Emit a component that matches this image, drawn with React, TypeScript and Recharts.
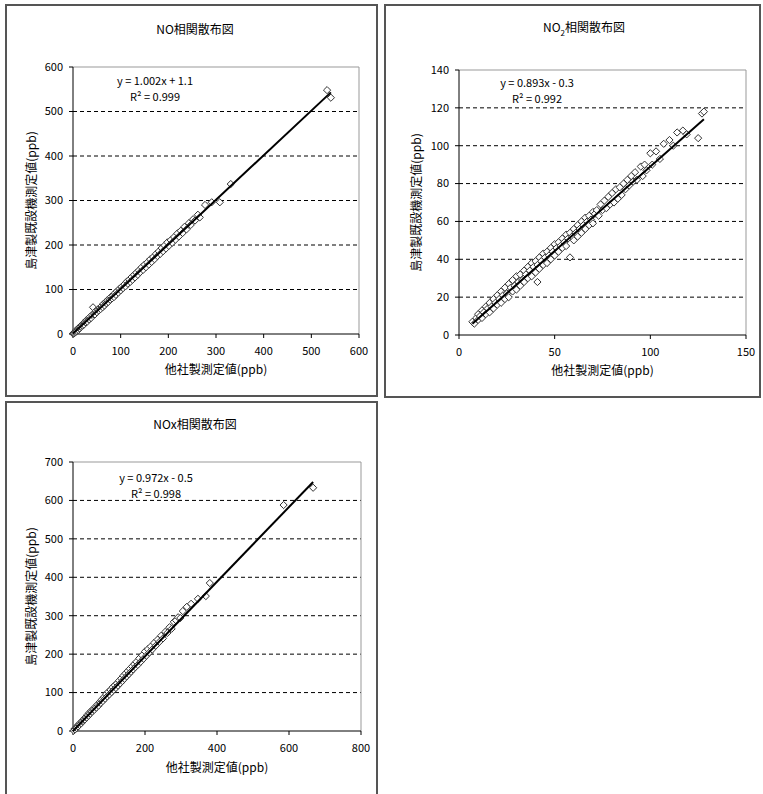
import React from 'react';
import { ScatterChart, Scatter, XAxis, YAxis, ReferenceLine } from 'recharts';

// values (x: 他社製, y: 島津製)
const noPoints = [
  [0, 1], [1, 2], [2, 1], [3, 4], [4, 3], [5, 6], [6, 5], [7, 9], [8, 7], [10, 11], [11, 9], [12, 14],
  [14, 13], [15, 17], [17, 16], [18, 20], [20, 19], [22, 24], [23, 21], [25, 27], [27, 26], [28, 31],
  [30, 28], [32, 34], [34, 33], [36, 39], [38, 36], [40, 43], [42, 60], [44, 45], [46, 44], [48, 52],
  [50, 49], [52, 55], [54, 53], [56, 58], [58, 56], [60, 63], [62, 60], [64, 68], [66, 64], [68, 71],
  [70, 69], [72, 76], [74, 72], [76, 79], [78, 77], [80, 84], [82, 80], [84, 86], [86, 83], [88, 92],
  [90, 88], [92, 96], [95, 93], [97, 101], [100, 98], [102, 106], [105, 103], [108, 112], [110, 107],
  [113, 118], [115, 113], [118, 122], [120, 117], [123, 128], [125, 122], [128, 133], [130, 127],
  [133, 138], [136, 133], [138, 143], [141, 139], [144, 150], [147, 144], [150, 156], [153, 150],
  [156, 161], [159, 156], [162, 168], [165, 162], [168, 173], [171, 168], [174, 180], [177, 175],
  [180, 186], [183, 180], [186, 193], [189, 186], [192, 199], [195, 192], [198, 206], [201, 198],
  [205, 211], [208, 205], [212, 218], [215, 212], [219, 226], [222, 219], [226, 232], [230, 227],
  [234, 241], [238, 235], [243, 249], [247, 245], [252, 258], [256, 255], [262, 268], [266, 262],
  [277, 290], [291, 296], [308, 296], [331, 337], [533, 548], [541, 531],
];
const noTrend = [[0, 1], [541, 543]];

const no2Points = [
  [7, 7], [8, 6], [9, 9], [10, 11], [10, 8], [11, 10], [12, 13], [12, 9], [13, 12], [14, 15], [14, 11],
  [15, 14], [16, 17], [16, 12], [17, 15], [18, 19], [18, 14], [19, 17], [20, 21], [20, 16], [21, 19],
  [22, 23], [22, 17], [23, 21], [24, 25], [24, 19], [25, 22], [26, 27], [26, 20], [27, 25], [28, 29],
  [28, 23], [29, 26], [30, 31], [30, 24], [31, 28], [32, 32], [32, 26], [33, 29], [34, 34], [34, 28],
  [35, 32], [36, 36], [36, 30], [37, 34], [38, 38], [38, 31], [39, 36], [40, 39], [40, 33], [41, 37],
  [41, 28], [42, 41], [42, 35], [43, 39], [44, 43], [44, 37], [45, 41], [46, 44], [46, 38], [47, 42],
  [48, 46], [48, 40], [49, 44], [50, 48], [50, 42], [51, 46], [52, 49], [52, 44], [53, 47], [54, 51],
  [54, 46], [55, 49], [56, 53], [56, 47], [57, 51], [58, 54], [58, 41], [59, 52], [60, 56], [60, 50],
  [61, 54], [62, 58], [62, 52], [63, 56], [64, 60], [64, 54], [65, 58], [66, 62], [66, 56], [67, 60],
  [68, 63], [68, 58], [69, 61], [70, 65], [70, 59], [71, 64], [72, 66], [73, 63], [74, 69], [75, 66],
  [76, 71], [77, 67], [78, 73], [79, 69], [80, 75], [81, 70], [82, 77], [83, 72], [84, 78], [85, 74],
  [86, 80], [87, 77], [88, 82], [89, 79], [90, 84], [91, 81], [92, 86], [93, 82], [95, 89], [96, 84],
  [97, 90], [98, 87], [100, 96], [101, 90], [103, 97], [105, 93], [107, 101], [110, 103], [112, 100],
  [114, 107], [117, 108], [119, 106], [125, 104], [127, 117], [128, 118],
];
const no2Trend = [[7, 6], [128, 114]];

const noxPoints = [
  [2, 1], [4, 5], [6, 4], [8, 9], [10, 8], [12, 13], [14, 12], [16, 17], [18, 16], [20, 21], [23, 20],
  [25, 26], [28, 26], [30, 31], [33, 30], [35, 36], [38, 35], [40, 42], [43, 40], [45, 47], [48, 45],
  [50, 52], [53, 50], [56, 57], [59, 55], [62, 63], [65, 61], [68, 69], [71, 66], [74, 75], [77, 73],
  [80, 82], [83, 78], [86, 88], [89, 84], [92, 96], [95, 90], [98, 102], [101, 95], [104, 107],
  [107, 101], [110, 114], [113, 107], [116, 119], [119, 112], [122, 124], [125, 118], [128, 131],
  [131, 124], [134, 137], [137, 130], [140, 144], [143, 136], [146, 150], [149, 142], [152, 156],
  [155, 148], [158, 162], [161, 154], [164, 168], [167, 160], [170, 174], [173, 166], [176, 180],
  [180, 172], [184, 189], [188, 180], [192, 197], [196, 188], [200, 207], [204, 196], [208, 213],
  [212, 204], [216, 220], [220, 212], [225, 229], [230, 222], [235, 238], [240, 232], [245, 248],
  [250, 241], [256, 258], [262, 255], [268, 270], [274, 266], [280, 284], [286, 288], [292, 296],
  [298, 294], [305, 312], [316, 323], [328, 331], [347, 344], [369, 351], [380, 385], [585, 588],
  [667, 633],
];
const noxTrend = [[0, 0], [667, 648]];

const noTicks = [0, 100, 200, 300, 400, 500, 600];
const no2XTicks = [0, 50, 100, 150];
const no2YTicks = [0, 20, 40, 60, 80, 100, 120, 140];
const noxXTicks = [0, 200, 400, 600, 800];
const noxYTicks = [0, 100, 200, 300, 400, 500, 600, 700];

const FONT = '"Noto Sans CJK JP", "Noto Sans", sans-serif';
const toXY = (arr: number[][]) => arr.map(([x, y]) => ({ x, y }));

const Diamond = (props: any) => {
  const { cx, cy } = props;
  if (cx == null || cy == null) return <g />;
  const r = 3.6;
  return (
    <path
      d={`M${cx},${cy - r}L${cx + r},${cy}L${cx},${cy + r}L${cx - r},${cy}Z`}
      fill="#fff"
      stroke="#333"
      strokeWidth={1}
    />
  );
};

const tickStyle = { fontSize: 11, fill: '#000', fontFamily: FONT };

const Panel = ({ box, margin, yWidth, yLabelOffset, xLabelOffset, points, trend, xTicks, yTicks, title, eq, r2, eqPos }: any) => {
  const xMax = xTicks[xTicks.length - 1];
  const yMax = yTicks[yTicks.length - 1];
  const grid = yTicks.slice(1, -1);
  return (
    <>
      <div style={{ position: 'absolute', left: box.left, top: box.top, width: box.width, height: box.height, border: '2px solid #555', boxSizing: 'border-box' }} />
      <div style={{ position: 'absolute', left: box.left, top: box.top }}>
        <ScatterChart width={box.chartW} height={box.chartH} margin={margin}>
          <XAxis
            type="number"
            dataKey="x"
            domain={[0, xMax]}
            ticks={xTicks}
            interval={0}
            tick={tickStyle}
            tickSize={4}
            tickMargin={9}
            height={30}
            stroke="#000"
            label={{ value: '他社製測定値(ppb)', position: 'bottom', offset: xLabelOffset, style: { fontSize: 12, fill: '#000', fontFamily: FONT } }}
          />
          <YAxis
            type="number"
            dataKey="y"
            domain={[0, yMax]}
            ticks={yTicks}
            interval={0}
            tick={tickStyle}
            tickSize={4}
            tickMargin={6}
            width={yWidth}
            stroke="#000"
            label={{ value: '島津製既設機測定値(ppb)', angle: -90, position: 'insideLeft', offset: yLabelOffset, style: { fontSize: 12, fill: '#000', fontFamily: FONT, textAnchor: 'middle' } }}
          />
          {grid.map((v: number) => (
            <ReferenceLine key={v} y={v} stroke="#000" strokeDasharray="4 3" />
          ))}
          <ReferenceLine y={yMax} stroke="#999" />
          <ReferenceLine x={xMax} stroke="#999" />
          <Scatter data={toXY(points)} shape={Diamond} isAnimationActive={false} />
          <Scatter data={toXY(trend)} line={{ stroke: '#000', strokeWidth: 2 }} shape={() => <g />} isAnimationActive={false} />
        </ScatterChart>
      </div>
      <div style={{ position: 'absolute', left: title.x, top: title.y, transform: 'translate(-50%, -50%)', fontSize: 12, fontFamily: FONT, whiteSpace: 'nowrap' }}>
        {title.text}
      </div>
      <div style={{ position: 'absolute', left: eqPos.x, top: eqPos.y, transform: 'translate(-50%, -50%)', fontSize: 11, fontFamily: FONT, whiteSpace: 'nowrap' }}>
        {eq}
      </div>
      <div style={{ position: 'absolute', left: eqPos.x, top: eqPos.y + 16, transform: 'translate(-50%, -50%)', fontSize: 11, fontFamily: FONT, whiteSpace: 'nowrap' }}>
        {r2}
      </div>
    </>
  );
};

export default function App() {
  return (
    <div style={{ position: 'absolute', left: 0, top: 0, width: 763, height: 794, overflow: 'hidden', background: '#fff' }}>
      <Panel
        box={{ left: 5, top: 4, width: 373, height: 393, chartW: 373, chartH: 393 }}
        margin={{ top: 63, right: 19, bottom: 33, left: 8 }}
        yWidth={60}
        yLabelOffset={19}
        xLabelOffset={1}
        points={noPoints}
        trend={noTrend}
        xTicks={noTicks}
        yTicks={noTicks}
        title={{ x: 195, y: 28, text: 'NO相関散布図' }}
        eq="y = 1.002x + 1.1"
        r2="R² = 0.999"
        eqPos={{ x: 155, y: 80 }}
      />
      <Panel
        box={{ left: 384, top: 4, width: 377, height: 394, chartW: 377, chartH: 394 }}
        margin={{ top: 66, right: 15, bottom: 33, left: 8 }}
        yWidth={67}
        yLabelOffset={25}
        xLabelOffset={1}
        points={no2Points}
        trend={no2Trend}
        xTicks={no2XTicks}
        yTicks={no2YTicks}
        title={{ x: 584, y: 28, text: <span>NO<sub style={{ fontSize: 8 }}>2</sub>相関散布図</span> }}
        eq="y = 0.893x - 0.3"
        r2="R² = 0.992"
        eqPos={{ x: 537, y: 82 }}
      />
      <Panel
        box={{ left: 5, top: 401, width: 373, height: 400, chartW: 373, chartH: 393 }}
        margin={{ top: 61, right: 17, bottom: 33, left: 8 }}
        yWidth={60}
        yLabelOffset={19}
        xLabelOffset={2}
        points={noxPoints}
        trend={noxTrend}
        xTicks={noxXTicks}
        yTicks={noxYTicks}
        title={{ x: 195, y: 423, text: 'NOx相関散布図' }}
        eq="y = 0.972x - 0.5"
        r2="R² = 0.998"
        eqPos={{ x: 156, y: 477 }}
      />
    </div>
  );
}
